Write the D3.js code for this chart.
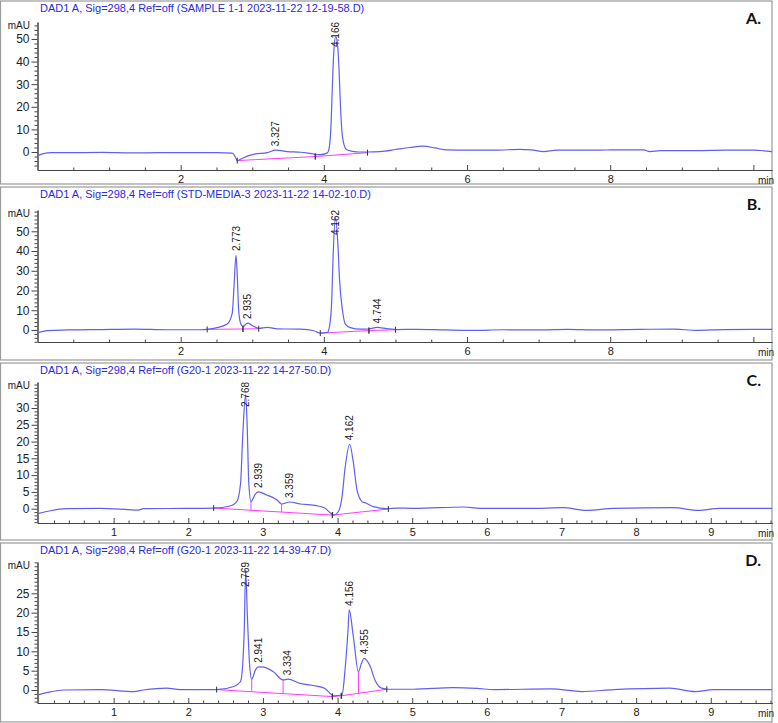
<!DOCTYPE html>
<html>
<head>
<meta charset="utf-8">
<script src="https://cdn.jsdelivr.net/npm/d3@7"></script>
<style>
body{margin:0;background:#fff;}
svg{display:block;font-family:"Liberation Sans",Arial,sans-serif;}
.domain,.tick line{stroke:#444;}
.tick text{fill:#222;}
</style>
</head>
<body>
<svg id="chart" width="778" height="723"></svg>
<script>
// titles / labels
var titles = [
	"DAD1 A, Sig=298,4 Ref=off (SAMPLE 1-1 2023-11-22 12-19-58.D)",
	"DAD1 A, Sig=298,4 Ref=off (STD-MEDIA-3 2023-11-22 14-02-10.D)",
	"DAD1 A, Sig=298,4 Ref=off (G20-1 2023-11-22 14-27-50.D)",
	"DAD1 A, Sig=298,4 Ref=off (G20-1 2023-11-22 14-39-47.D)"
];
var letters = ["A.", "B.", "C.", "D."];

// axis ticks
var xMajorAB = [2, 4, 6, 8, 10];
var xMajorCD = [1, 2, 3, 4, 5, 6, 7, 8, 9];
var yMajorAB = [0, 10, 20, 30, 40, 50];
var yMajorC = [0, 5, 10, 15, 20, 25, 30];
var yMajorD = [0, 5, 10, 15, 20, 25];
var xDomAB = [0, 10.26], xDomCD = [-0.02, 9.82];
var yDomA = [-7.96, 57.5], yDomB = [-6.1, 60.8], yDomC = [-4.26, 37.75], yDomD = [-3.36, 33.1];

// A : SAMPLE 1-1
var timeA = [0, 0.08, 0.2, 0.5, 0.9, 1.3, 1.7, 2.1, 2.5, 2.72, 2.76, 2.79, 2.85, 2.95, 3.03, 3.21, 3.327, 3.49, 3.68, 3.86, 3.95, 4.05, 4.08, 4.1, 4.12, 4.14, 4.166, 4.19, 4.21, 4.23, 4.25, 4.28, 4.32, 4.4, 4.5, 4.7, 4.85, 5.0, 5.2, 5.39, 5.55, 5.72, 6.0, 6.4, 6.74, 6.9, 7.07, 7.25, 7.6, 8.0, 8.47, 8.55, 8.7, 9.2, 9.6, 10.0, 10.26];
var mauA  = [-1.8, -0.7, -0.3, -0.3, -0.2, -0.4, -0.3, -0.3, -0.3, -0.5, -2.0, -3.8, -3.0, -1.6, -0.9, -0.3, 0.8, 0.2, -0.1, -0.9, -1.2, -0.4, 3, 12, 30, 45, 51, 48, 38, 22, 10, 3.5, 1.0, 0.3, 0.0, 0.1, 0.4, 1.1, 2.0, 2.6, 1.8, 0.9, 0.8, 0.8, 1.2, 0.9, 0.2, 0.8, 0.8, 0.9, 0.9, 0.2, 0.6, 0.6, 0.8, 0.8, 0.2];
var baseA = [[2.79, -3.8, 3.88, -2.0], [3.88, -2.0, 4.61, -0.3]];
var peakA = [3.327, 4.166];
var dropA = [];

// B : STD-MEDIA-3
var timeB = [0, 0.14, 0.42, 0.88, 1.35, 1.81, 2.28, 2.37, 2.51, 2.65, 2.72, 2.745, 2.773, 2.79, 2.81, 2.84, 2.87, 2.935, 3.0, 3.09, 3.21, 3.35, 3.67, 3.86, 3.95, 4.05, 4.08, 4.11, 4.13, 4.162, 4.195, 4.22, 4.26, 4.3, 4.37, 4.51, 4.63, 4.744, 4.88, 5.02, 5.3, 5.7, 6.1, 6.5, 7.0, 7.4, 7.8, 8.4, 8.9, 9.2, 9.6, 10.26];
var mauB  = [-1.4, -0.3, 0.0, 0.2, 0.4, 0.1, 0.1, 0.3, 1.2, 3.0, 8.4, 22, 38, 28, 10, 3.0, 1.8, 3.5, 2.3, 0.8, 1.3, 0.6, 0.4, -0.4, -1.6, -1.2, 2.0, 15, 38, 57, 44, 25, 10, 3.0, 1.2, 0.4, 0.5, 1.3, 0.7, 0.2, 0.3, 0.0, -0.2, 0.1, 0.0, 0.3, 0.0, 0.3, 0.4, -0.2, 0.2, 0.3];
var baseB = [[2.37, 0.3, 2.87, 0.5], [2.87, 0.5, 3.09, 0.6], [3.95, -1.6, 4.63, -0.3], [4.63, -0.3, 5.0, 0.1]];
var peakB = [2.773, 2.935, 4.162, 4.744];
var dropB = [];

// C : G20-1 14-27-50
var timeC = [0, 0.15, 0.37, 0.82, 1.33, 1.4, 1.94, 2.34, 2.56, 2.65, 2.7, 2.73, 2.768, 2.79, 2.81, 2.84, 2.9, 2.939, 3.05, 3.19, 3.25, 3.359, 3.5, 3.72, 3.83, 3.9, 3.95, 4.01, 4.06, 4.1, 4.162, 4.21, 4.26, 4.33, 4.38, 4.48, 4.66, 4.8, 5.02, 5.69, 5.91, 6.58, 7.02, 7.34, 7.7, 8.5, 8.83, 9.12, 9.82];
var mauC  = [-1.4, -0.6, 0.0, 0.1, -0.4, 0.0, 0.1, 0.2, 0.8, 2.1, 7.5, 22, 34, 24, 8, 2.1, 4.4, 5.0, 4.1, 2.6, 1.4, 2.0, 1.4, 0.9, 0.2, -1.2, -1.9, -0.9, 3.6, 12, 19.2, 14, 5.6, 2.1, 1.7, 0.6, 0.0, 0.2, 0.1, 0.5, 0.1, 0.1, 0.3, -0.5, 0.1, 0.3, -0.5, 0.1, 0.1];
var baseC = [[2.34, 0.2, 3.93, -1.9], [3.93, -1.9, 4.68, -0.1]];
var peakC = [2.768, 2.939, 3.359, 4.162];
var dropC = [2.84, 3.25];

// D : G20-1 14-39-47
var timeD = [0, 0.15, 0.33, 0.82, 1.27, 1.4, 1.71, 1.89, 2.38, 2.61, 2.7, 2.73, 2.75, 2.769, 2.79, 2.82, 2.85, 2.9, 2.941, 3.01, 3.14, 3.27, 3.334, 3.5, 3.72, 3.83, 3.95, 4.06, 4.1, 4.14, 4.156, 4.21, 4.28, 4.32, 4.355, 4.44, 4.5, 4.59, 4.68, 5.02, 5.55, 5.87, 6.1, 6.86, 7.27, 7.7, 8.45, 8.79, 9.04, 9.82];
var mauD  = [-1.2, -0.5, 0.0, 0.1, -0.4, 0.0, 0.5, 0.1, 0.1, 0.9, 2.2, 6.9, 15.5, 31, 20, 7, 2.8, 5.2, 6.0, 5.9, 4.7, 2.6, 2.8, 1.7, 1.0, 0.4, -1.5, -1.3, 5.2, 15.5, 20.7, 14, 4.7, 6.9, 8.2, 6, 2.6, 0.5, 0.2, 0.2, 0.6, 0.4, 0.1, 0.3, -0.4, 0.1, 0.5, -0.4, 0.1, 0.1];
var baseD = [[2.38, 0.1, 3.93, -1.7], [3.93, -1.7, 4.05, -1.5], [4.05, -1.5, 4.66, 0.2]];
var peakD = [2.769, 2.941, 3.334, 4.156, 4.355];
var dropD = [2.85, 3.27, 4.28];

var panels = [
	{title: titles[0], letter: letters[0], time: timeA, mau: mauA, base: baseA, peaks: peakA, drops: dropA, xDom: xDomAB, yDom: yDomA, xMajor: xMajorAB, xMinorStep: 0.5, yMajor: yMajorAB, yMinorStep: 2},
	{title: titles[1], letter: letters[1], time: timeB, mau: mauB, base: baseB, peaks: peakB, drops: dropB, xDom: xDomAB, yDom: yDomB, xMajor: xMajorAB, xMinorStep: 0.5, yMajor: yMajorAB, yMinorStep: 2},
	{title: titles[2], letter: letters[2], time: timeC, mau: mauC, base: baseC, peaks: peakC, drops: dropC, xDom: xDomCD, yDom: yDomC, xMajor: xMajorCD, xMinorStep: 0.2, yMajor: yMajorC, yMinorStep: 1},
	{title: titles[3], letter: letters[3], time: timeD, mau: mauD, base: baseD, peaks: peakD, drops: dropD, xDom: xDomCD, yDom: yDomD, xMajor: xMajorCD, xMinorStep: 0.2, yMajor: yMajorD, yMinorStep: 1}
];

// panel frames and plot areas
var layout = [
	{top: 1, bottom: 184, plotTop: 22, plotBottom: 170},
	{top: 187, bottom: 360, plotTop: 210, plotBottom: 342},
	{top: 363, bottom: 540, plotTop: 382, plotBottom: 523},
	{top: 543, bottom: 722, plotTop: 562, plotBottom: 703}
];

var axisX = 37.5, plotRight = 772;
var traceColor = "#5f5ff2", baseColor = "#ff3cff";
var svg = d3.select("#chart");

function valueAt(times, vals, t){
	var i = d3.bisectLeft(times, t);
	if(i >= times.length) return vals[vals.length - 1];
	if(times[i] === t || i === 0) return vals[i];
	return vals[i-1] + (vals[i] - vals[i-1]) * (t - times[i-1]) / (times[i] - times[i-1]);
}
function baseAt(base, t){
	for(var k = 0; k < base.length; k++){
		var s = base[k];
		if(t >= s[0] && t <= s[2]) return s[1] + (s[3] - s[1]) * (t - s[0]) / (s[2] - s[0]);
	}
	return 0;
}

function drawPanel(p, L){
	var g = svg.append("g");
	var x = d3.scaleLinear().domain(p.xDom).range([axisX, plotRight]);
	var y = d3.scaleLinear().domain(p.yDom).range([L.plotBottom, L.plotTop]);

	g.append("rect")
		.attr("x", 0.5).attr("y", L.top)
		.attr("width", plotRight - 0.5).attr("height", L.bottom - L.top)
		.attr("fill", "none").attr("stroke", "#9a9a9a").attr("stroke-width", 1.2);

	g.append("text")
		.attr("x", 40).attr("y", L.top + 11)
		.style("font-size", "11px").style("fill", "#2a2ae6")
		.text(p.title);

	g.append("text")
		.attr("x", 761).attr("y", L.top + 23)
		.attr("text-anchor", "end")
		.style("font-family", "Lato, 'DejaVu Sans', sans-serif")
		.style("font-weight", "bold").style("font-size", "16px").style("fill", "#111")
		.text(p.letter);

	// y axis
	var yMinor = d3.range(Math.ceil(p.yDom[0] / p.yMinorStep) * p.yMinorStep, p.yDom[1], p.yMinorStep)
		.filter(function(v){ return p.yMajor.indexOf(v) < 0; });
	g.append("g")
		.attr("transform", "translate(" + axisX + ",0)")
		.call(d3.axisLeft(y).tickValues(yMinor).tickSize(3).tickSizeOuter(0).tickFormat(""));
	var yAx = g.append("g")
		.attr("transform", "translate(" + axisX + ",0)")
		.call(d3.axisLeft(y).tickValues(p.yMajor).tickSize(6).tickPadding(2).tickSizeOuter(0).tickFormat(d3.format("d")));
	yAx.selectAll("text").style("font-size", "12px");

	g.append("text")
		.attr("x", 30).attr("y", L.plotTop + 3).attr("dy", "0.35em")
		.attr("text-anchor", "end")
		.style("font-size", "10px").style("fill", "#222")
		.text("mAU");

	// x axis
	var xMinor = d3.range(p.xMinorStep, p.xDom[1], p.xMinorStep)
		.filter(function(v){ return !p.xMajor.some(function(m){ return Math.abs(m - v) < 1e-6; }); });
	g.append("g")
		.attr("transform", "translate(0," + L.plotBottom + ")")
		.call(d3.axisBottom(x).tickValues(xMinor).tickSize(-2.5).tickSizeOuter(0).tickFormat(""));
	var xAx = g.append("g")
		.attr("transform", "translate(0," + L.plotBottom + ")")
		.call(d3.axisBottom(x).tickValues(p.xMajor).tickSize(-5).tickPadding(5).tickSizeOuter(0)
			.tickFormat(function(d){ return d === 10 ? "" : d; }));
	xAx.selectAll("text").style("font-size", "11px");

	g.append("text")
		.attr("x", 758).attr("y", L.plotBottom + 14)
		.style("font-size", "10px").style("fill", "#222")
		.text("min");

	// baselines (integration)
	g.selectAll(".bl").data(p.base).enter().append("line")
		.attr("x1", function(d){ return x(d[0]); })
		.attr("y1", function(d){ return y(d[1]); })
		.attr("x2", function(d){ return x(d[2]); })
		.attr("y2", function(d){ return y(d[3]); })
		.attr("stroke", baseColor).attr("stroke-width", 1);

	g.selectAll(".dl").data(p.drops).enter().append("line")
		.attr("x1", function(t){ return x(t); })
		.attr("x2", function(t){ return x(t); })
		.attr("y1", function(t){ return y(valueAt(p.time, p.mau, t)); })
		.attr("y2", function(t){ return y(baseAt(p.base, t)); })
		.attr("stroke", baseColor).attr("stroke-width", 1);

	// trace
	var line = d3.line()
		.x(function(d, i){ return x(p.time[i]); })
		.y(function(d){ return y(d); })
		.curve(d3.curveMonotoneX);
	g.append("path").datum(p.mau)
		.attr("d", line)
		.attr("fill", "none").attr("stroke", traceColor).attr("stroke-width", 1.2);

	// event marks at baseline ends
	var ends = [];
	p.base.forEach(function(s){ ends.push([s[0], s[1]]); ends.push([s[2], s[3]]); });
	g.selectAll(".ev").data(ends).enter().append("line")
		.attr("x1", function(d){ return x(d[0]); })
		.attr("x2", function(d){ return x(d[0]); })
		.attr("y1", function(d){ return y(d[1]) - 3; })
		.attr("y2", function(d){ return y(d[1]) + 3; })
		.attr("stroke", "#333").attr("stroke-width", 1);

	// peak labels
	g.selectAll(".pk").data(p.peaks).enter().append("text")
		.attr("transform", function(t){
			var apex = y(valueAt(p.time, p.mau, t));
			var by = Math.max(apex - 4, L.plotTop + 25);
			return "translate(" + (x(t) + 3.5) + "," + by + ") rotate(-90)";
		})
		.style("font-size", "10px").style("fill", "#222")
		.text(d3.format(".3f"));
}

panels.forEach(function(p, i){ drawPanel(p, layout[i]); });
</script>
</body>
</html>
